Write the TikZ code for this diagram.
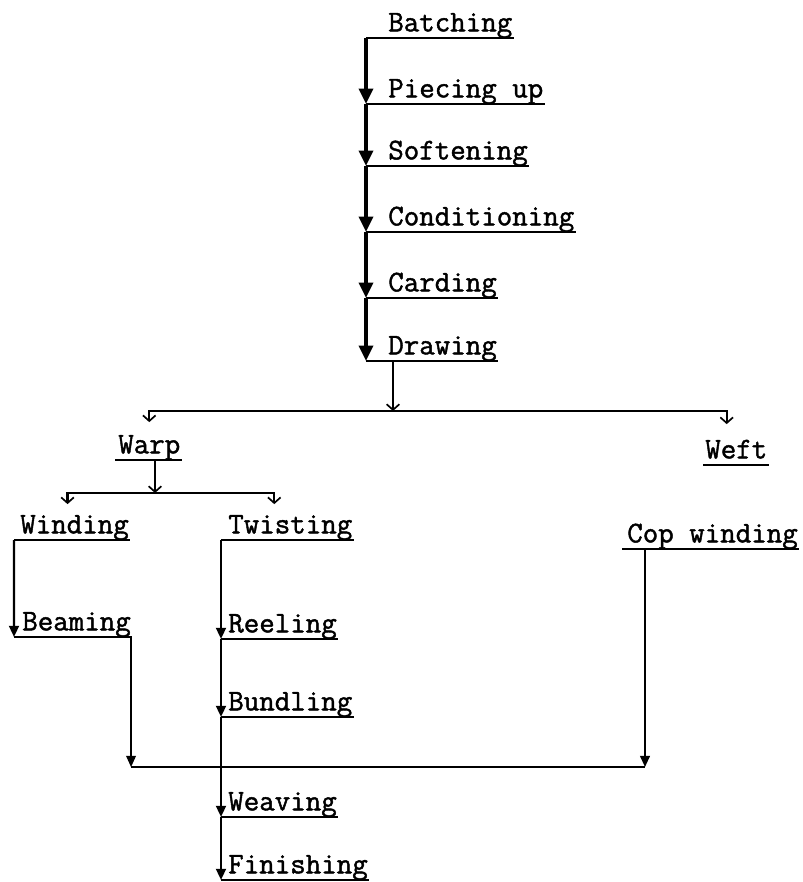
\documentclass[tikz,border=0pt]{standalone}
\usepackage{fontspec}
\newfontfamily\typew[FakeBold=1.4]{Latin Modern Mono}
\usetikzlibrary{arrows.meta,positioning,calc}

\begin{document}
\begin{tikzpicture}[x=0.025cm, y=-0.025cm,
    rule/.style={draw, line width=1.3pt, -},
    stage/.style={font=\typew\fontsize{21.4}{23}\selectfont, anchor=south west, inner sep=0pt,
        text height=13.5pt, text depth=4.5pt,
        append after command={([xshift=-#1]\tikzlastnode.south west) edge[rule] ([xshift=1pt]\tikzlastnode.south east)}},
    stage/.default=0.15cm,
    chain/.style={line width=2.3pt, -{Triangle[length=11pt,width=10pt]}},
    feedtip/.style={line width=1.7pt, -{Triangle[length=8pt,width=7pt]}},
    fork/.style={line width=1.5pt, -{Straight Barb[length=4pt,width=9pt,line width=1.2pt]}},
    merger/.style={line width=0.9pt, -{Triangle[length=8pt,width=7pt]}}
]
    \useasboundingbox (0,0) rectangle (803,882);

    % main sequence
    \node[stage=0.55cm] (batch) at (388,38) {Batching};
    \node[stage=0.55cm] (piece) at (388,104) {Piecing up};
    \node[stage=0.55cm] (soft) at (388,166) {Softening};
    \node[stage=0.55cm] (cond) at (388,232) {Conditioning};
    \node[stage=0.55cm] (card) at (388,298) {Carding};
    \node[stage=0.55cm] (drw) at (388,361) {Drawing};

    \foreach \a/\b in {batch/piece, piece/soft, soft/cond, cond/card, card/drw}
        \draw[chain] ([xshift=-0.55cm]\a.south west) -- ([xshift=-0.55cm]\b.south west);

    % warp and weft
    \node[stage=0.075cm] (warp) at (118,460) {Warp};
    \node[stage=0.05cm] (weft) at (705,465) {Weft};

    \coordinate (fork) at (393,411);
    \draw[fork] (drw.south -| fork) -- (fork);
    \draw[fork, shorten >=0.3cm] (fork) -| (warp.north);
    \draw[fork, shorten >=0.375cm] (fork) -| ([xshift=-0.24cm]weft.north);

    % warp branch
    \node[stage=0.15cm] (wind) at (20,540) {Winding};
    \node[stage=0.175cm] (twist) at (228,540) {Twisting};
    \node[stage=0.125cm] (cop) at (627,549) {Cop winding};
    \coordinate (copdrop) at ([xshift=0.45cm]cop.south west);

    \coordinate (wfork) at (155,493);
    \draw[fork] (warp.south -| wfork) -- (wfork);
    \draw[fork, shorten >=0.25cm] (wfork) -| ([xshift=-0.175cm]wind.north);
    \draw[fork, shorten >=0.25cm] (wfork) -| ([xshift=-0.4cm]twist.north);

    \node[stage=0.2cm] (beam) at (22,637) {Beaming};
    \draw[feedtip] ([xshift=-0.15cm]wind.south west) -- ([xshift=-0.2cm]beam.south west);

    \node[stage=0.175cm] (reel) at (228,639) {Reeling};
    \node[stage=0.175cm] (bund) at (228,717) {Bundling};
    \node[stage=0.175cm] (weave) at (228,817) {Weaving};
    \node[stage=0.175cm] (fin) at (228,880) {Finishing};

    \foreach \a/\b in {twist/reel, reel/bund, bund/weave, weave/fin}
        \draw[feedtip] ([xshift=-0.175cm]\a.south west) -- ([xshift=-0.175cm]\b.south west);

    % beams and cops meet before weaving
    \coordinate (merge) at (221,767);
    \draw[merger] (beam.south east) -- (beam.south east |- merge);
    \draw[merger, line width=1.4pt] (copdrop) -- (copdrop |- merge);
    \draw[line width=0.9pt] (beam.south east |- merge) -- (copdrop |- merge);
\end{tikzpicture}
\end{document}
